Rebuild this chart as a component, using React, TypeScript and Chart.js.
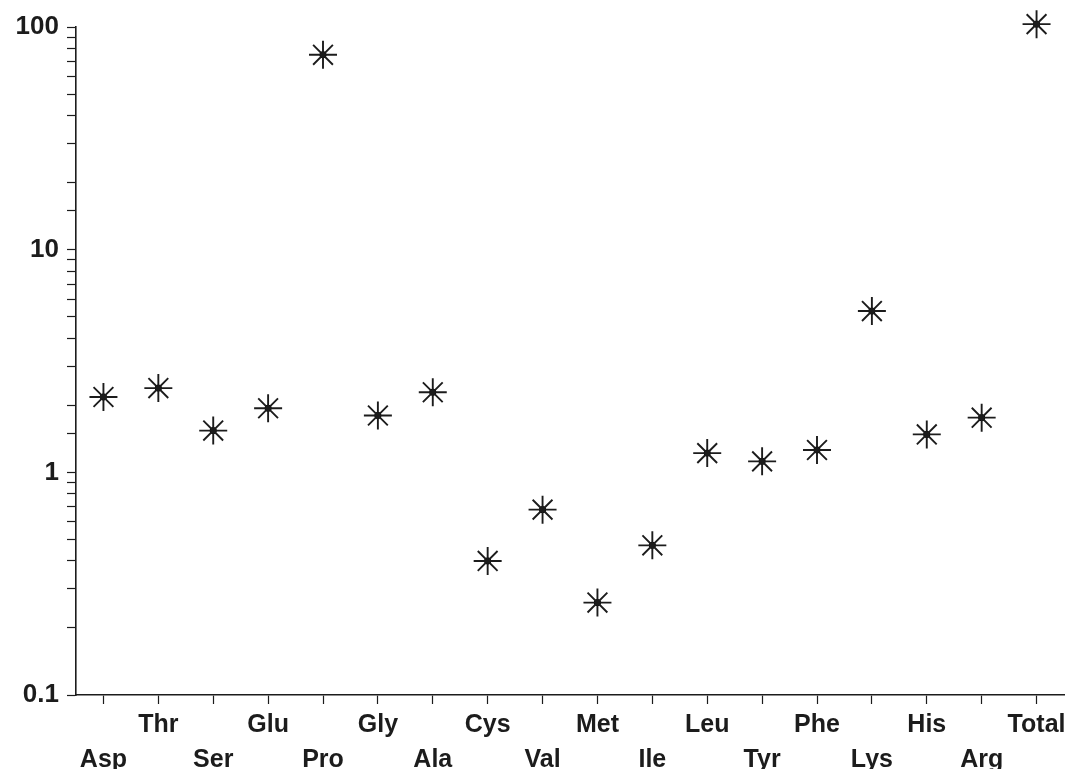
import React, { useEffect, useRef } from 'react';
import { Chart, registerables } from 'chart.js';

Chart.register(...registerables);

// Categories (amino acids), drawn on two alternating label rows
const aminoAcids = ['Asp', 'Thr', 'Ser', 'Glu', 'Pro', 'Gly', 'Ala', 'Cys', 'Val', 'Met', 'Ile', 'Leu', 'Tyr', 'Phe', 'Lys', 'His', 'Arg', 'Total'];
const ratios = [2.18, 2.39, 1.54, 1.94, 75, 1.8, 2.29, 0.4, 0.68, 0.26, 0.47, 1.22, 1.12, 1.26, 5.3, 1.48, 1.76, 103];
// Labelled y ticks
const yTickLabels = [0.1, 1, 10, 100];

const FONT = '"Liberation Sans", Arial, Helvetica, sans-serif';
const INK = '#1c1c1c';

export default function App() {
  const ref = useRef<HTMLCanvasElement | null>(null);

  useEffect(() => {
    if (!ref.current) return;
    const chart = new Chart(ref.current, {
      type: 'line',
      data: {
        labels: aminoAcids,
        datasets: [
          {
            data: ratios,
            showLine: false,
            pointStyle: 'star',
            pointRadius: 14,
            pointBorderWidth: 1.9,
            pointBorderColor: INK,
            pointBackgroundColor: INK,
            borderColor: INK,
            backgroundColor: INK,
            clip: false,
          },
          {
            data: ratios,
            showLine: false,
            pointStyle: 'circle',
            pointRadius: 3.2,
            pointBorderWidth: 1,
            pointBorderColor: '#000',
            pointBackgroundColor: '#000',
            borderColor: '#000',
            backgroundColor: '#000',
            clip: false,
          },
        ],
      },
      options: {
        responsive: false,
        animation: false,
        events: [],
        layout: { autoPadding: false, padding: { top: 27, right: 6, left: 0, bottom: 0 } },
        plugins: { legend: { display: false }, tooltip: { enabled: false } },
        scales: {
          x: {
            type: 'category',
            offset: true,
            grid: { display: true, drawOnChartArea: false, tickLength: 9, tickColor: INK, tickWidth: 1.2, offset: false },
            border: { display: true, color: INK, width: 1.6 },
            ticks: {
              autoSkip: false,
              maxRotation: 0,
              minRotation: 0,
              padding: 4,
              color: INK,
              font: { family: FONT, size: 25, weight: 'bold', lineHeight: 1.4 },
              callback: (_v: any, i: number) => (i % 2 === 0 ? ['', aminoAcids[i]] : [aminoAcids[i]]),
            },
            afterFit: (s: any) => {
              s.height = 74;
              s.paddingLeft = 0;
              s.paddingRight = 0;
            },
          },
          y: {
            type: 'logarithmic',
            min: 0.1,
            max: 100,
            grid: { display: true, drawOnChartArea: false, tickLength: 9, tickColor: INK, tickWidth: 1.2 },
            border: { display: true, color: INK, width: 1.6 },
            ticks: {
              autoSkip: false,
              padding: 8,
              color: INK,
              font: { family: FONT, size: 26, weight: 'bold' },
              callback: (v: any) => {
                const n = Number(v);
                const hit = yTickLabels.find((t) => Math.abs(t - n) / t < 1e-6);
                return hit !== undefined ? String(hit) : '';
              },
            },
            afterFit: (s: any) => {
              s.width = 76;
            },
          },
        },
      },
    });
    return () => chart.destroy();
  }, []);

  return (
    <div style={{ position: 'fixed', left: 0, top: 0, width: 1070, height: 769, background: '#fff' }}>
      <canvas ref={ref} width={1070} height={769} style={{ display: 'block' }} />
    </div>
  );
}
